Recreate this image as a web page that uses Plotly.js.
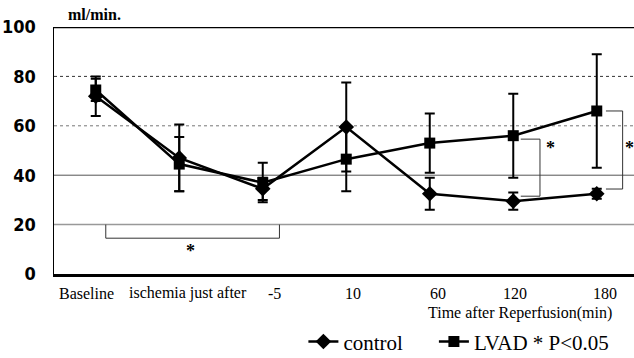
<!DOCTYPE html>
<html>
<head>
<meta charset="utf-8">
<script src="https://cdn.plot.ly/plotly-3.0.1.min.js"></script>
<style>html,body{margin:0;padding:0;background:#fff;}#chart{width:634px;height:358px;}</style>
</head>
<body>
<div id="chart"></div>
<script>
var categories = ["Baseline", "ischemia just after", "-5", "10", "60", "120", "180"];
var controlMean = [72, 47, 34.5, 59.5, 32.5, 29.5, 32.5];
var controlErr  = [8, 13.5, 4.5, 18, 6.5, 3.5, 2];
var lvadMean    = [74.5, 44.5, 37, 46.5, 53, 56, 66];
var lvadErr     = [4.5, 11, 8, 13, 12, 17, 23];
var yTicks      = [0, 20, 40, 60, 80, 100];

var idx = categories.map(function(_, i){ return i; });
// pixel nudges of the category labels, as placed in the original figure
var labelShift = [-9, 9, 12, 7, 8, 2, 8];

var traces = [
  {
    x: idx, y: controlMean, name: "control", type: "scatter", mode: "lines+markers",
    line: {color: "#000", width: 2.5},
    marker: {symbol: "diamond", size: 12, color: "#000"},
    error_y: {type: "data", array: controlErr, visible: true, color: "#000", thickness: 2, width: 5},
    legend: "legend"
  },
  {
    x: idx, y: lvadMean, name: "LVAD * P&lt;0.05", type: "scatter", mode: "lines+markers",
    line: {color: "#000", width: 2.5},
    marker: {symbol: "square", size: 11, color: "#000"},
    error_y: {type: "data", array: lvadErr, visible: true, color: "#000", thickness: 2, width: 5},
    legend: "legend2"
  }
];

function hline(y, color, dash, w) {
  return {type: "line", xref: "paper", yref: "y", x0: 0, x1: 1, y0: y, y1: y,
          line: {color: color, width: w, dash: dash}, layer: "below"};
}
function seg(x0, y0, x1, y1) {
  return {type: "line", xref: "x", yref: "y", x0: x0, y0: y0, x1: x1, y1: y1,
          line: {color: "#333", width: 1}};
}

var shapes = [
  hline(yTicks[1], "#999", "solid", 1.5),
  hline(yTicks[2], "#555", "solid", 1),
  hline(yTicks[3], "#777", "dot", 1),
  hline(yTicks[4], "#333", "dot", 1),
  hline(yTicks[5], "#000", "solid", 2.5),
  // bottom bracket
  seg(0.12, 20, 0.12, 14.5), seg(0.12, 14.5, 2.2, 14.5), seg(2.2, 14.5, 2.2, 20),
  // bracket at 120
  seg(5.09, 54.6, 5.32, 54.6), seg(5.32, 54.6, 5.32, 31.5), seg(5.32, 31.5, 5.09, 31.5),
  // bracket at 180
  seg(6.11, 66, 6.31, 66), seg(6.31, 66, 6.31, 34.4), seg(6.31, 34.4, 6.11, 34.4)
];

var serif = "Liberation Serif, Times New Roman, serif";
var annotations = [
  {text: "<b>ml/min.</b>", xref: "paper", yref: "paper", x: 0.069, y: 1.05, xanchor: "center", yanchor: "middle",
   showarrow: false, font: {family: serif, size: 16, color: "#000"}},
  {text: "Time after Reperfusion(min)", xref: "paper", yref: "paper", x: 0.966, y: -0.158, xanchor: "right", yanchor: "middle",
   showarrow: false, font: {family: serif, size: 16, color: "#000"}},
  {text: "<b>*</b>", xref: "x", yref: "y", x: 1.14, y: 9.5, showarrow: false, font: {family: serif, size: 18, color: "#000"}},
  {text: "<b>*</b>", xref: "x", yref: "y", x: 5.44, y: 51, showarrow: false, font: {family: serif, size: 18, color: "#000"}},
  {text: "<b>*</b>", xref: "x", yref: "y", x: 6.395, y: 51, showarrow: false, font: {family: serif, size: 18, color: "#000"}}
];
categories.forEach(function(c, i){
  annotations.push({text: c, xref: "x", yref: "paper", x: idx[i], xshift: labelShift[i], y: -0.077,
    xanchor: "center", yanchor: "middle", showarrow: false, font: {family: serif, size: 16, color: "#000"}});
});

var legendFont = {family: serif, size: 21, color: "#000"};
var layout = {
  width: 634, height: 358,
  margin: {l: 54, r: 0, t: 27, b: 84, pad: 0, autoexpand: false},
  paper_bgcolor: "#fff", plot_bgcolor: "#fff",
  showlegend: true,
  legend:  {orientation: "h", x: 0.43,  xanchor: "left", y: -0.275, yanchor: "middle", font: legendFont, bgcolor: "rgba(0,0,0,0)"},
  legend2: {orientation: "h", x: 0.655, xanchor: "left", y: -0.275, yanchor: "middle", font: legendFont, bgcolor: "rgba(0,0,0,0)"},
  xaxis: {
    range: [-0.5, 6.446], tickvals: idx, showticklabels: false,
    showgrid: false, zeroline: false, showline: true, linecolor: "#000", linewidth: 2.5, ticks: ""
  },
  yaxis: {
    range: [0, 100], tickvals: yTicks, showgrid: false, zeroline: false,
    showline: true, linecolor: "#000", linewidth: 1.5,
    ticks: "outside", ticklen: 13, tickcolor: "rgba(0,0,0,0)",
    tickfont: {family: "DejaVu Sans Condensed, Liberation Sans Narrow, Liberation Sans, sans-serif", size: 18, color: "#000", weight: "bold"}
  },
  shapes: shapes,
  annotations: annotations
};

Plotly.newPlot("chart", traces, layout, {displayModeBar: false, staticPlot: true});
</script>
</body>
</html>
